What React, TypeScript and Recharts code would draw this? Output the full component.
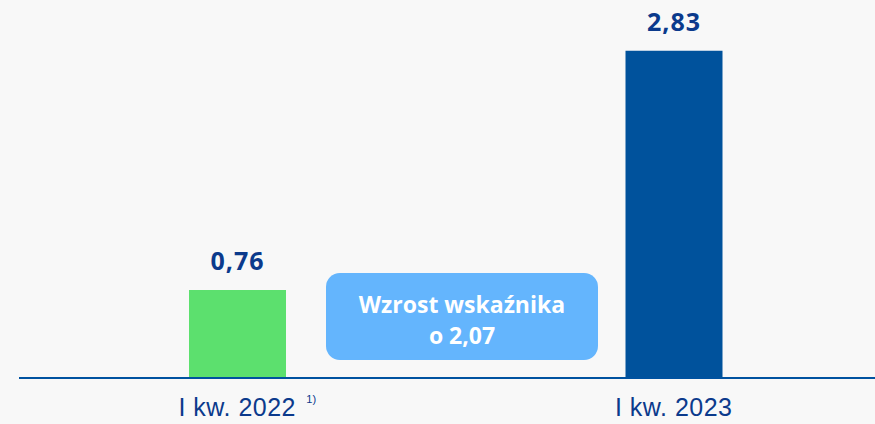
import React from 'react';
import {BarChart, Bar, XAxis, YAxis, Cell, LabelList} from 'recharts';

const categories = ['I kw. 2022', 'I kw. 2023'];
const values = [0.76, 2.83];
const footnotes = ['1)', ''];
const barColors = ['#5ce06e', '#00529c'];

const data = categories.map((name, i) => ({name, value: values[i], note: footnotes[i]}));

const fmt = (v: number) => v.toFixed(2).replace('.', ',');
const growth = fmt(values[1] - values[0]);

const CategoryTick = (props: any) => {
  const {x, y, payload, index} = props;
  const note = footnotes[index];
  return (
    <g>
      <text
        x={x}
        y={y}
        dy={30}
        textAnchor='middle'
        fill='#0b3a8c'
        fontFamily='"Liberation Sans", Arial, sans-serif'
        fontSize={25}
        letterSpacing={0.5}
      >
        {payload.value}
      </text>
      {note ? (
        <text
          x={x + 74}
          y={y}
          dy={17}
          textAnchor='middle'
          fill='#0b3a8c'
          fontFamily='"Liberation Sans", Arial, sans-serif'
          fontSize={11}
        >
          {note}
        </text>
      ) : null}
    </g>
  );
};

const App: React.FC = () => {
  return (
    <div
      style={{
        position: 'absolute',
        left: 0,
        top: 0,
        width: 875,
        height: 424,
        overflow: 'hidden',
        background: '#f8f8f8',
      }}
    >
      <BarChart
        width={900}
        height={424}
        data={data}
        margin={{top: 31, right: 8, left: 19, bottom: 0}}
      >
        <XAxis
          dataKey='name'
          height={46}
          tickLine={false}
          axisLine={{stroke: '#0052a0', strokeWidth: 2}}
          tick={<CategoryTick />}
          interval={0}
        />
        <YAxis hide domain={[0, 3]} />
        <Bar dataKey='value' barSize={97} isAnimationActive={false}>
          {data.map((d, i) => (
            <Cell key={d.name} fill={barColors[i]} />
          ))}
          <LabelList
            dataKey='value'
            position='top'
            offset={20}
            formatter={(v: any) => fmt(Number(v))}
            fill='#0b3a8c'
            fontFamily='"Open Sans", sans-serif'
            fontWeight={700}
            fontSize={25}
            letterSpacing={1}
          />
        </Bar>
      </BarChart>
      <div
        style={{
          position: 'absolute',
          left: 326,
          top: 273,
          width: 272,
          height: 87,
          borderRadius: 14,
          background: '#64b5fd',
          color: '#ffffff',
          fontFamily: '"Open Sans", sans-serif',
          fontWeight: 700,
          fontSize: 23,
          lineHeight: '31px',
          display: 'flex',
          flexDirection: 'column',
          justifyContent: 'center',
          alignItems: 'center',
          paddingTop: 6,
          boxSizing: 'border-box',
        }}
      >
        <div>Wzrost wskaźnika</div>
        <div>o {growth}</div>
      </div>
    </div>
  );
};

export default App;
